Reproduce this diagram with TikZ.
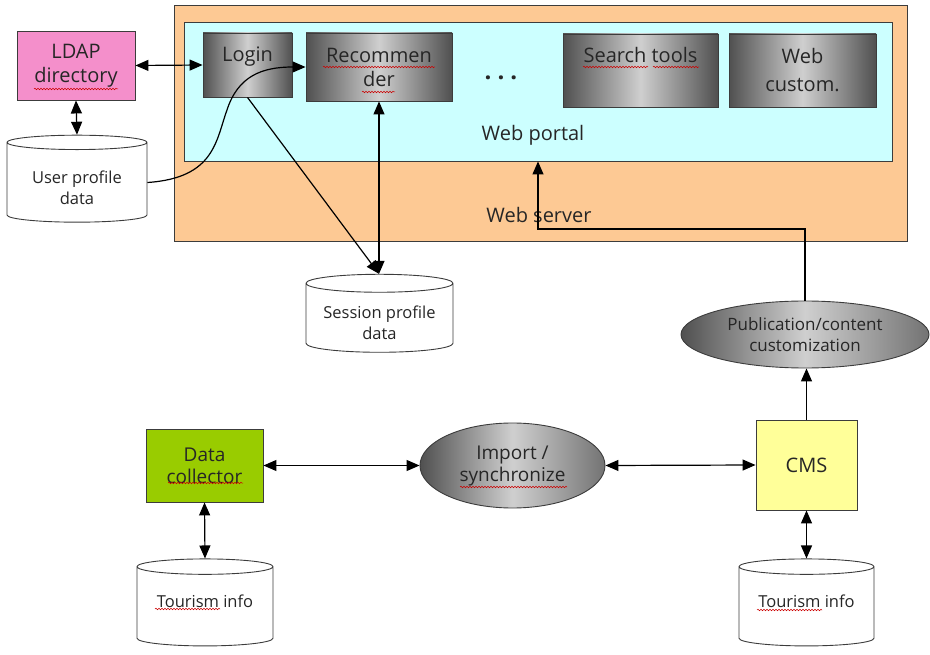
\documentclass[tikz,border=0pt]{standalone}
\usepackage{fontspec}
\setmainfont{Open Sans}
\usetikzlibrary{arrows.meta,shapes.geometric,decorations.pathmorphing}

\definecolor{serverfill}{HTML}{FDC994}
\definecolor{portalfill}{HTML}{CCFFFF}
\definecolor{ldapfill}{HTML}{F48FCB}
\definecolor{collectfill}{HTML}{99CC00}
\definecolor{cmsfill}{HTML}{FFFF99}
\definecolor{edge}{HTML}{3C3C3C}
\definecolor{ink}{HTML}{262626}
\definecolor{shadedark}{HTML}{505050}
\definecolor{shadelight}{HTML}{CFCFCF}

\newcommand\fs[2]{\fontsize{#1}{#2}\selectfont}

\begin{document}
\begin{tikzpicture}[x=1pt,y=-1pt,
  every node/.style={text=ink},
  box/.style={draw=edge, line width=0.9pt, rectangle, inner sep=0pt, align=center},
  module/.style={box, left color=shadedark, right color=shadedark, middle color=shadelight},
  process/.style={draw=edge, line width=0.9pt, ellipse, inner sep=0pt, align=center,
    left color=shadedark, right color=shadedark!80, middle color=shadelight},
  % the cylinder takes its end curvature from its contents, so it holds a
  % blank box of the label's size; the label itself is set on top
  store/.style={draw=edge, line width=0.9pt, cylinder, shape border rotate=90,
    aspect=0.16, fill=white, inner sep=0pt, align=center, font=\fs{16.5}{21}},
  storetext/.style={font=\fs{16.5}{21}, align=center, inner sep=0pt},
  link/.style={line width=1.2pt, draw=black},
  tip/.tip={Triangle[length=13pt,width=11pt]},
  arr/.style={link, -tip},
  biarr/.style={link, tip-tip},
  squiggle/.style={draw=red!80!black, line width=0.5pt, decorate,
    decoration={snake, amplitude=0.8pt, segment length=3pt}}
]
\useasboundingbox (0,0) rectangle (930,655);

% web server with the portal inside
\node[box, fill=serverfill, minimum width=733pt, minimum height=236pt] (server) at (540.5,123) {};
\node[font=\fs{20}{24}] (serverlabel) at (539,215) {Web server};
\node[box, fill=portalfill, minimum width=708pt, minimum height=139pt] (portal) at (538,91.5) {};
\node[font=\fs{20}{24}] (portallabel) at (533,135) {Web portal};

% portal modules
\node[module, minimum width=89pt, minimum height=64pt, font=\fs{20}{24}, text depth=22pt] (login) at (247.5,65) {Login};
\node[module, minimum width=146pt, minimum height=68pt, font=\fs{20}{24}] (recommender) at (379,67) {Recommen\\der};
\node[font=\bfseries\fs{24}{28}] (dots) at (501,78) {.\hspace{6pt}.\hspace{6pt}.};
\node[module, minimum width=155pt, minimum height=73pt, font=\fs{20}{24}, text depth=32pt] (search) at (640.5,70.5) {Search tools};
\node[module, minimum width=147pt, minimum height=73pt, font=\fs{20}{28}] (webcustom) at (802.5,70.5) {Web\\custom.};

% directory and data stores
\node[box, fill=ldapfill, minimum width=118pt, minimum height=69pt, font=\fs{20}{24}] (ldap) at (76,65.5) {LDAP\\directory};
\node[store, minimum width=140pt, minimum height=87pt] (userprof) at (77,182.5) {\phantom{User profile}\\\phantom{data}};
\node[storetext] (userprof-text) at (77,187.5) {User profile\\data};
\node[store, minimum width=147pt, minimum height=78pt] (session) at (379.5,318) {\phantom{Session profile}\\\phantom{data}};
\node[storetext] (session-text) at (379.5,322.5) {Session profile\\data};

% content chain
\node[process, minimum width=248pt, minimum height=67pt, font=\fs{17}{21}] (pub) at (805,334.5) {Publication/content\\customization};
\node[box, fill=collectfill, minimum width=117pt, minimum height=73pt, font=\fs{19}{22}] (collector) at (204.5,465.5) {Data\\collector};
\node[process, minimum width=185pt, minimum height=85pt, font=\fs{19}{22}] (import) at (512.5,465.5) {Import /\\synchronize};
\node[box, fill=cmsfill, minimum width=101pt, minimum height=90pt, font=\fs{20}{24}] (cms) at (806.5,465) {CMS};
\node[store, minimum width=136pt, minimum height=87pt] (tourL) at (205,606.5) {\phantom{Tourism info}};
\node[storetext] (tourL-text) at (205,601) {Tourism info};
\node[store, minimum width=135pt, minimum height=87pt] (tourR) at (806.5,606.5) {\phantom{Tourism info}};
\node[storetext] (tourR-text) at (806.5,601.5) {Tourism info};

% connectors
\draw[biarr] (ldap.east) -- (login.west);
\draw[biarr] (ldap.south) -- (userprof.north);
\draw[arr] (userprof.east) .. controls (215,178) and (216,140) .. (227,110)
  .. controls (238,76) and (262,67) .. (recommender.west);
\draw[arr] (login.south) -- (recommender.south |- session.north);
\draw[biarr] (recommender.south) -- (recommender.south |- session.north);
\coordinate (bend) at (538,229);
\draw[arr] (pub.north) |- (bend) -- (portal.south);
\draw[arr] (cms.north) -- (cms.north |- pub.south);
\draw[biarr] (collector.east) -- (import.west);
\draw[biarr] (import.east) -- (cms.west);
\draw[biarr] (collector.south) -- (tourL.north);
\draw[biarr] (cms.south) -- (tourR.north);

% spell-check marks under words
\draw[squiggle] (34,89) -- (118,89);
\draw[squiggle] (323,67) -- (435,67);
\draw[squiggle] (362,92) -- (395,92);
\draw[squiggle] (583,67) -- (648,67);
\draw[squiggle] (653,67) -- (699,67);
\draw[squiggle] (168,483) -- (243,483);
\draw[squiggle] (460,487) -- (567,487);
\draw[squiggle] (155,609) -- (220,609);
\draw[squiggle] (757,610) -- (822,610);
\end{tikzpicture}
\end{document}
